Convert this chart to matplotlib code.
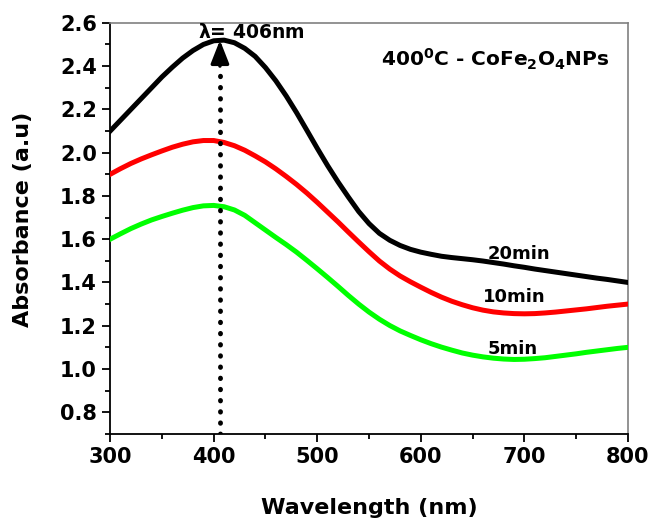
import matplotlib
matplotlib.use("Agg")
import matplotlib.pyplot as plt
from matplotlib.ticker import MultipleLocator

plt.rcParams['font.family'] = 'DejaVu Sans'
plt.rcParams['font.weight'] = 'bold'
plt.rcParams['mathtext.default'] = 'bf'

# wavelength grid (nm), 10 nm steps
wavelength = list(range(300, 801, 10))

# absorbance
abs_20min = [2.10, 2.15, 2.20, 2.25, 2.30, 2.35, 2.395, 2.437, 2.472, 2.50,
             2.517, 2.52, 2.508, 2.482, 2.445, 2.393, 2.332, 2.262, 2.185, 2.103,
             2.02, 1.94, 1.865, 1.795, 1.728, 1.672, 1.627, 1.595, 1.571, 1.553,
             1.54, 1.53, 1.521, 1.515, 1.51, 1.505, 1.499, 1.492, 1.485, 1.477,
             1.47, 1.462, 1.455, 1.448, 1.441, 1.434, 1.427, 1.42, 1.414, 1.407,
             1.40]
abs_10min = [1.90, 1.926, 1.95, 1.971, 1.99, 2.008, 2.025, 2.039, 2.05, 2.056,
             2.056, 2.047, 2.032, 2.011, 1.985, 1.957, 1.925, 1.89, 1.853, 1.813,
             1.77, 1.725, 1.68, 1.633, 1.587, 1.542, 1.499, 1.462, 1.43, 1.403,
             1.378, 1.354, 1.332, 1.313, 1.297, 1.283, 1.272, 1.264, 1.259, 1.256,
             1.255, 1.256, 1.259, 1.263, 1.268, 1.273, 1.278, 1.284, 1.29, 1.295,
             1.30]
abs_5min = [1.60, 1.625, 1.649, 1.67, 1.689, 1.705, 1.72, 1.734, 1.746, 1.754,
            1.756, 1.75, 1.735, 1.71, 1.676, 1.642, 1.608, 1.575, 1.54, 1.502,
            1.463, 1.423, 1.382, 1.34, 1.30, 1.263, 1.23, 1.201, 1.176, 1.155,
            1.135, 1.117, 1.101, 1.087, 1.074, 1.064, 1.056, 1.05, 1.046, 1.044,
            1.045, 1.048, 1.052, 1.058, 1.064, 1.07, 1.077, 1.083, 1.089, 1.095,
            1.10]

peak_nm = 406
peak_abs = 2.52

fig = plt.figure(figsize=(6.52, 5.19), dpi=100)
ax = fig.add_axes([0.169, 0.164, 0.794, 0.792])

ax.plot(wavelength, abs_20min, color='black', lw=3.6, zorder=3)
ax.plot(wavelength, abs_10min, color='#ff0000', lw=3.6, zorder=3)
ax.plot(wavelength, abs_5min, color='#00ff00', lw=3.6, zorder=3)

# dotted marker line + arrow at the peak
ax.plot([peak_nm, peak_nm], [0.7, 2.40], color='black', ls=(0, (0.1, 2.2)),
        lw=3.5, dash_capstyle='round', zorder=4)
ax.annotate('', xy=(peak_nm, peak_abs), xytext=(peak_nm, 2.40),
            arrowprops=dict(arrowstyle='-|>,head_length=1.4,head_width=0.55',
                            color='black', lw=2.5, shrinkA=0, shrinkB=0), zorder=5)

ax.text(436, 2.555, r'$\lambda$= 406nm', fontsize=13.5, ha='center', va='center',
        fontweight='bold')
ax.text(0.743, 0.91, r'400$^{0}$C - CoFe$_{2}$O$_{4}$NPs', transform=ax.transAxes,
        fontsize=14.5, ha='center', va='center', fontweight='bold')

ax.text(695, 1.53, '20min', fontsize=13, ha='center', va='center')
ax.text(690, 1.332, '10min', fontsize=13, ha='center', va='center')
ax.text(689, 1.092, '5min', fontsize=13, ha='center', va='center')

ax.set_xlim(300, 800)
ax.set_ylim(0.7, 2.6)
ax.xaxis.set_major_locator(MultipleLocator(100))
ax.xaxis.set_minor_locator(MultipleLocator(50))
ax.yaxis.set_minor_locator(MultipleLocator(0.1))
ax.set_yticks([0.8, 1.0, 1.2, 1.4, 1.6, 1.8, 2.0, 2.2, 2.4, 2.6])
ax.set_yticklabels(['0.8', '1.0', '1.2', '1.4', '1.6', '1.8', '2.0', '2.2', '2.4', '2.6'])

ax.tick_params(which='both', direction='out', top=False, right=False, width=1.3,
               labelsize=15)
ax.tick_params(which='major', length=6)
ax.tick_params(which='minor', length=3.5)

for side in ['left', 'bottom']:
    ax.spines[side].set_linewidth(1.3)
    ax.spines[side].set_color('black')
for side in ['top', 'right']:
    ax.spines[side].set_linewidth(1.2)
    ax.spines[side].set_color('#808080')

ax.set_xlabel('Wavelength (nm)', fontsize=16, fontweight='bold', labelpad=22)
ax.set_ylabel('Absorbance (a.u)', fontsize=16, fontweight='bold')
ax.yaxis.set_label_coords(-0.149, 0.521)

fig.savefig('out.png', dpi=100)
